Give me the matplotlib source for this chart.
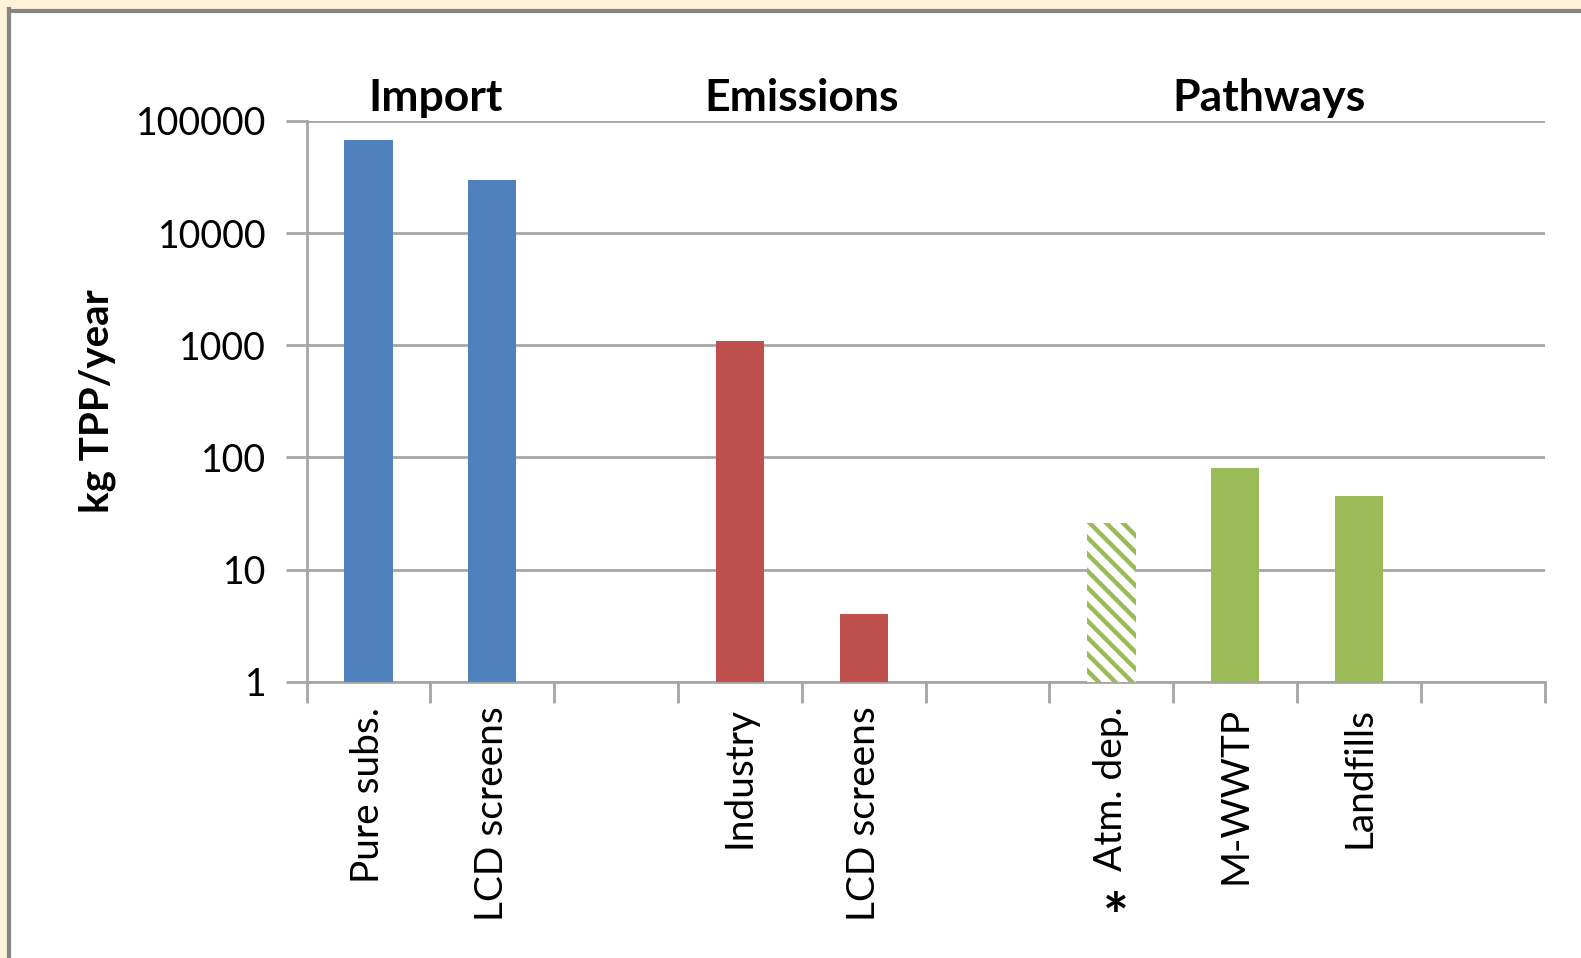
import matplotlib
matplotlib.use("Agg")
import matplotlib.pyplot as plt
from matplotlib.patches import Rectangle
import numpy as np

# ---- data ----
categories = ["Pure subs.", "LCD screens", "", "Industry", "LCD screens", "",
              "Atm. dep.", "M-WWTP", "Landfills", ""]
values = [68000, 30000, np.nan, 1100, 4, np.nan, 25, 80, 45, np.nan]
groups = ["Import", "Import", None, "Emissions", "Emissions", None,
          "Pathways", "Pathways", "Pathways", None]
hatched = [False, False, False, False, False, False, True, False, False, False]
group_titles = ["Import", "Emissions", "Pathways"]
ytick_values = [1, 10, 100, 1000, 10000, 100000]
ytick_labels = ["1", "10", "100", "1000", "10000", "100000"]

colors = {"Import": "#4F81BD", "Emissions": "#C0504D", "Pathways": "#9BBB59"}

plt.rcParams["font.family"] = ["Lato", "DejaVu Sans"]
plt.rcParams["hatch.linewidth"] = 3.2

fig = plt.figure(figsize=(15.81, 9.58), dpi=100)
fig.patch.set_facecolor("#FFF4DA")

# white chart area with grey frame on the top and left
fig.add_artist(Rectangle((9 / 1581, -0.1), 1.2, 1 - 11 / 958 + 0.1,
                         transform=fig.transFigure, facecolor="white",
                         edgecolor="none", zorder=-2))
fig.add_artist(plt.Line2D([9 / 1581, 9 / 1581], [0, 1 - 9 / 958],
                          transform=fig.transFigure, color="#858585", lw=3,
                          zorder=-1))
fig.add_artist(plt.Line2D([9 / 1581, 1], [1 - 11 / 958, 1 - 11 / 958],
                          transform=fig.transFigure, color="#858585", lw=3,
                          zorder=-1))

ax = fig.add_axes([0.1939, 0.2884, 0.7832, 0.5853])
ax.set_facecolor("none")
ax.set_yscale("log")
ax.set_ylim(1, 100000)
ax.set_xlim(-0.5, len(categories) - 0.5)

x = np.arange(len(categories))
for i, (v, g, h) in enumerate(zip(values, groups, hatched)):
    if g is None or np.isnan(v):
        continue
    c = colors[g]
    if h:
        ax.bar(i, v, width=0.39, bottom=1, facecolor="white", edgecolor=c,
               hatch="\\\\", linewidth=0, zorder=3)
    else:
        ax.bar(i, v - 1, width=0.39, bottom=1, color=c, linewidth=0, zorder=3)

# gridlines
ax.set_yticks(ytick_values)
ax.set_yticklabels(ytick_labels, fontsize=27)
ax.yaxis.set_minor_locator(matplotlib.ticker.NullLocator())
ax.grid(axis="y", color="#A6A6A6", lw=2, zorder=0)
ax.tick_params(axis="y", length=15, width=2, color="#A6A6A6", pad=14)

# category ticks between slots, labels centred on slots
ax.set_xticks(np.arange(-0.5, len(categories)), minor=False)
ax.set_xticklabels([])
ax.tick_params(axis="x", which="major", length=15, width=2, color="#A6A6A6")
ax.set_xticks(x, minor=True)
ax.set_xticklabels(categories, minor=True, rotation=90, fontsize=28)
ax.tick_params(axis="x", which="minor", length=0, pad=18)

for side in ["top", "right"]:
    ax.spines[side].set_visible(False)
for side in ["left", "bottom"]:
    ax.spines[side].set_color("#A6A6A6")
    ax.spines[side].set_linewidth(2)

ax.set_ylabel("kg TPP/year", fontsize=29, fontweight="bold", labelpad=14)

# group headers
title_x = {"Import": 0.54, "Emissions": 3.5, "Pathways": 7.27}
for t in group_titles:
    ax.text(title_x[t], 1.006, t, transform=ax.get_xaxis_transform(),
            ha="center", va="bottom", fontsize=32, fontweight="bold")

# asterisk marking the estimated (hatched) pathway
star_i = hatched.index(True)
ax.text(star_i + 0.04, -0.425, "*", transform=ax.get_xaxis_transform(),
        ha="center", va="center", fontsize=44, fontweight="bold")

fig.savefig("out.png", dpi=100)
